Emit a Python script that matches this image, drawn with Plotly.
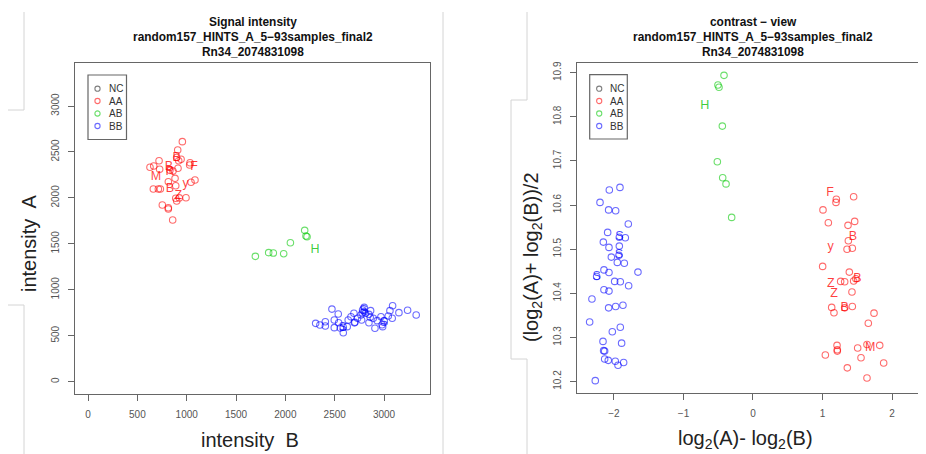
import plotly.graph_objects as go

# The page body adds an 8px margin; the figure is sized so that page pixels match the reference.
OFF = 8
W, H = 926 - OFF, 454 - OFF
FONT = "Liberation Sans, Arial, Helvetica, sans-serif"

# ---------------- Left panel: Signal intensity (x = intensity B, y = intensity A)
aa_B = [956, 909, 919, 943, 898, 912, 1034, 1030, 720, 666, 628, 726, 861, 830, 1044, 1084,
        814, 882, 889, 662, 713, 733, 993, 889, 899, 753, 814, 814, 858, 925]
aa_A = [2612, 2521, 2405, 2420, 2440, 2322, 2383, 2358, 2405, 2347, 2333, 2311, 2293, 2300, 2170, 2195,
        2176, 2213, 2133, 2097, 2097, 2097, 2002, 1996, 1966, 1923, 1893, 1879, 1760, 2000]
ab_B = [2196, 2209, 2220, 2051, 1831, 1878, 1983, 1696]
ab_A = [1647, 1585, 1578, 1512, 1404, 1400, 1393, 1364]
bb_B = [2472, 2307, 2350, 2405, 2405, 2496, 2536, 2496, 2540, 2557, 2587, 2587, 2627, 2637, 2665,
        2695, 2705, 2732, 2766, 2783, 2799, 2773, 2813, 2847, 2864, 2847, 2891, 2908, 2931, 2969,
        2986, 3002, 3043, 3060, 3083, 3087, 3151, 3239, 3326, 2780, 2800, 2860, 2700, 2980]
bb_A = [790, 635, 617, 653, 606, 671, 737, 588, 642, 584, 592, 533, 599, 671, 707,
        744, 646, 690, 726, 780, 809, 671, 744, 733, 773, 642, 690, 581, 664, 707,
        599, 660, 715, 773, 690, 827, 751, 777, 726, 750, 760, 700, 640, 620]

aa_lab = ["B", "F", "B", "R", "M", "y", "B", "Z"]
aa_lab_B = [898, 1074, 821, 831, 689, 990, 831, 915]
aa_lab_A = [2431, 2340, 2333, 2279, 2224, 2151, 2097, 2024]
ab_lab = ["H"]
ab_lab_B = [2301]
ab_lab_A = [1429]
bb_lab = ["S", "S", "S"]
bb_lab_B = [2791, 3000, 2581]
bb_lab_A = [768, 642, 588]

# ---------------- Right panel: contrast view (x = log2(A)-log2(B), y = (log2(A)+log2(B))/2)
aa_x = [1.199, 1.194, 1.448, 1.007, 1.084, 1.367, 1.463, 1.372, 1.353, 1.429, 1.002, 1.386, 1.448,
        1.261, 1.319, 1.424, 1.132, 1.165, 1.319, 1.429, 1.741, 1.659, 1.209, 1.213, 1.213, 1.041,
        1.506, 1.640, 1.823, 1.554, 1.880, 1.357, 1.640, 1.480]
aa_y = [10.613, 10.606, 10.619, 10.589, 10.560, 10.554, 10.563, 10.519, 10.500, 10.502, 10.461, 10.448, 10.428,
        10.427, 10.426, 10.403, 10.368, 10.356, 10.367, 10.370, 10.355, 10.332, 10.282, 10.269, 10.272, 10.260,
        10.276, 10.284, 10.282, 10.254, 10.242, 10.231, 10.208, 10.433]
ab_x = [-0.417, -0.504, -0.489, -0.441, -0.513, -0.436, -0.388, -0.307]
ab_y = [10.894, 10.872, 10.867, 10.779, 10.698, 10.662, 10.648, 10.572]
bb_x = [-1.914, -2.067, -2.201, -2.077, -1.976, -1.794, -2.091, -2.153, -1.837, -1.923, -2.072, -1.923,
        -2.038, -1.928, -1.952, -1.851, -2.144, -2.072, -1.655, -2.249, -1.990, -1.909, -1.789, -2.144,
        -2.072, -2.317, -2.077, -1.976, -1.871, -2.350, -1.909, -2.024, -2.158, -1.890, -2.149, -2.134,
        -2.134, -2.082, -1.981, -1.942, -1.861, -2.269]
bb_y = [10.640, 10.634, 10.606, 10.589, 10.587, 10.557, 10.538, 10.516, 10.526, 10.527, 10.504, 10.507,
        10.482, 10.486, 10.470, 10.468, 10.453, 10.447, 10.448, 10.438, 10.427, 10.426, 10.417, 10.408,
        10.405, 10.387, 10.367, 10.370, 10.373, 10.335, 10.323, 10.313, 10.291, 10.287, 10.270, 10.269,
        10.251, 10.248, 10.246, 10.237, 10.243, 10.202]

aa_rlab = ["F", "B", "y", "B", "Z", "Z", "B", "M"]
aa_rlab_x = [1.108, 1.439, 1.118, 1.501, 1.118, 1.165, 1.319, 1.688]
aa_rlab_y = [10.628, 10.528, 10.506, 10.433, 10.422, 10.399, 10.367, 10.276]
ab_rlab = ["H"]
ab_rlab_x = [-0.695]
ab_rlab_y = [10.825]
bb_rlab = ["S", "S", "S"]
bb_rlab_x = [-1.923, -1.928, -2.249]
bb_rlab_y = [10.527, 10.486, 10.438]

left_xticks = [0, 500, 1000, 1500, 2000, 2500, 3000]
left_yticks = [0, 500, 1000, 1500, 2000, 2500, 3000]
right_xticks = [-2, -1, 0, 1, 2]
right_yticks = [10.2, 10.3, 10.4, 10.5, 10.6, 10.7, 10.8, 10.9]

groups = ["NC", "AA", "AB", "BB"]
RED = "rgba(255,0,0,0.58)"
GREEN = "rgba(0,200,0,0.58)"
BLUE = "rgba(0,0,255,0.58)"
GRAYC = "rgba(0,0,0,0.5)"
RED_T = "rgba(255,0,0,0.75)"
GREEN_T = "rgba(0,190,0,0.75)"
BLUE_T = "rgba(0,0,255,0.72)"
group_colors = [GRAYC, RED, GREEN, BLUE]


def px(x):
    return (x - OFF) / W


def py(y):
    return 1 - (y - OFF) / H


fig = go.Figure()


def pts(x, y, color, name, xa, ya):
    fig.add_trace(go.Scatter(
        x=x, y=y, mode="markers", name=name, showlegend=False,
        xaxis=xa, yaxis=ya,
        marker=dict(symbol="circle-open", size=6.5, color=color, line=dict(width=1.1, color=color)),
    ))


def labs(x, y, t, color, xa, ya):
    fig.add_trace(go.Scatter(
        x=x, y=y, text=t, mode="text", showlegend=False, xaxis=xa, yaxis=ya,
        textfont=dict(family=FONT, size=12.5, color=color), textposition="middle center",
    ))


pts(aa_B, aa_A, RED, "AA", "x", "y")
pts(ab_B, ab_A, GREEN, "AB", "x", "y")
pts(bb_B, bb_A, BLUE, "BB", "x", "y")
labs(aa_lab_B, aa_lab_A, aa_lab, RED_T, "x", "y")
labs(ab_lab_B, ab_lab_A, ab_lab, GREEN_T, "x", "y")
labs(bb_lab_B, bb_lab_A, bb_lab, BLUE_T, "x", "y")

pts(aa_x, aa_y, RED, "AA", "x2", "y2")
pts(ab_x, ab_y, GREEN, "AB", "x2", "y2")
pts(bb_x, bb_y, BLUE, "BB", "x2", "y2")
labs(aa_rlab_x, aa_rlab_y, aa_rlab, RED_T, "x2", "y2")
labs(ab_rlab_x, ab_rlab_y, ab_rlab, GREEN_T, "x2", "y2")
labs(bb_rlab_x, bb_rlab_y, bb_rlab, BLUE_T, "x2", "y2")

AX = "#666666"
TICKF = dict(family=FONT, size=10, color="#555555")
common = dict(showgrid=False, zeroline=False, showline=True, linecolor=AX, linewidth=1.3,
              ticks="outside", ticklen=6, tickcolor=AX, tickwidth=1, tickfont=TICKF,
              automargin=False, ticklabelstandoff=5)

fig.update_layout(
    width=W, height=H,
    margin=dict(l=0, r=0, t=0, b=0),
    paper_bgcolor="white", plot_bgcolor="white",
    showlegend=False,
    xaxis=dict(domain=[px(75), px(430)], range=[-132, 3466], tickvals=left_xticks, mirror=True,
               anchor="y", **common),
    yaxis=dict(domain=[py(394), py(63)], range=[-134, 3468], tickvals=left_yticks, mirror=True,
               tickangle=-90, anchor="x", **common),
    xaxis2=dict(domain=[px(577), 1.0], range=[-2.532, 2.489], tickvals=right_xticks, mirror=True,
                anchor="y2", **common),
    yaxis2=dict(domain=[py(393), py(63)], range=[10.174, 10.922], tickvals=right_yticks, mirror=False,
                tickangle=-90, anchor="x2", **common),
)

ann = []
# titles
for cx, t in [(252.5, "Signal intensity"), (753, "contrast \u2212 view")]:
    for i, line in enumerate([t, "random157_HINTS_A_5\u221293samples_final2", "Rn34_2074831098"]):
        ann.append(dict(x=px(cx), y=py(22 + 15 * i), xref="paper", yref="paper", text="<b>%s</b>" % line,
                        showarrow=False, xanchor="center", yanchor="middle",
                        font=dict(family=FONT, size=11.9, color="#111111")))
# axis titles
TF = dict(family=FONT, size=20, color="#222222")
ann.append(dict(x=px(250), y=py(440), xref="paper", yref="paper", text="intensity\u00a0 B",
                showarrow=False, xanchor="center", yanchor="middle", font=TF))
ann.append(dict(x=px(29), y=py(244), xref="paper", yref="paper", text="intensity\u00a0 A",
                showarrow=False, xanchor="center", yanchor="middle", textangle=-90, font=TF))
ann.append(dict(x=px(745), y=py(439), xref="paper", yref="paper",
                text="log<sub>2</sub>(A)- log<sub>2</sub>(B)",
                showarrow=False, xanchor="center", yanchor="middle", font=TF))
ann.append(dict(x=px(533), y=py(257), xref="paper", yref="paper",
                text="(log<sub>2</sub>(A)+ log<sub>2</sub>(B))/2",
                showarrow=False, xanchor="center", yanchor="middle", textangle=-90, font=TF))

shapes = []
# legends (drawn like R's legend box)
rows = [88.7, 101, 113.5, 126]
for (bx0, bx1, by0, by1) in [(88, 126.5, 75, 139.5), (589.7, 627.3, 74.7, 139)]:
    shapes.append(dict(type="rect", xref="paper", yref="paper", x0=px(bx0), x1=px(bx1),
                       y0=py(by1), y1=py(by0), line=dict(color="#666666", width=1.2)))
    for g, col, ry in zip(groups, group_colors, rows):
        shapes.append(dict(type="circle", xref="paper", yref="paper", xsizemode="pixel", ysizemode="pixel",
                           xanchor=px(bx0 + 9.5), yanchor=py(ry), x0=-2.6, x1=2.6, y0=-2.6, y1=2.6,
                           line=dict(color=col, width=1.1)))
        ann.append(dict(x=px(bx0 + 18.5), y=py(ry), xref="paper", yref="paper", text=g, showarrow=False,
                        xanchor="left", yanchor="middle", font=dict(family=FONT, size=10, color="#333333")))

# frame lines of the composed figure
FR = dict(color="#d4d4d4", width=1)


def seg(x0, y0, x1, y1):
    shapes.append(dict(type="line", xref="paper", yref="paper", x0=px(x0), y0=py(y0), x1=px(x1), y1=py(y1),
                       line=FR))


seg(24, 12, 24, 110)
seg(24, 110, 7, 110)
seg(7, 110, 7, 305)
seg(7, 305, 24, 305)
seg(24, 305, 24, 454)
seg(443, 12, 443, 454)
seg(527, 12, 527, 100)
seg(527, 100, 511, 100)
seg(511, 100, 511, 359)
seg(511, 359, 527, 359)
seg(527, 359, 527, 454)

fig.update_layout(annotations=ann, shapes=shapes)
fig.write_html("out.html")
